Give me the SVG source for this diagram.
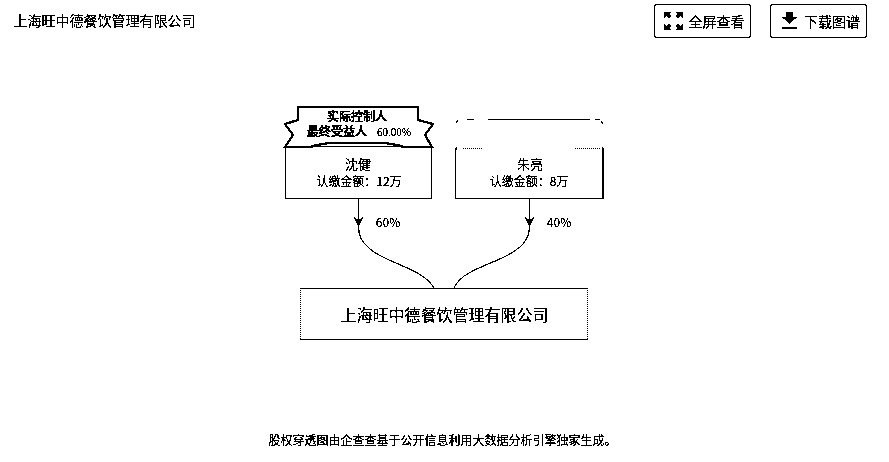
<svg xmlns="http://www.w3.org/2000/svg" width="889" height="462" viewBox="0 0 889 462">
<style>
text{font-family:"Noto Sans CJK SC","Liberation Sans",sans-serif;fill:#000;text-anchor:middle}
.box{fill:#fff;stroke:#000;stroke-width:1}
.btn{fill:#fff;stroke:#000;stroke-width:1}
.line{fill:none;stroke:#000;stroke-width:1}
.ic{fill:#000;stroke:none}
.s12{font-size:12px}.s13{font-size:13px}.s14{font-size:14px}.s16{font-size:16px}
</style>
<defs>
<marker id="arrow" viewBox="0 0 10 10" refX="10" refY="5" markerWidth="10" markerHeight="10" markerUnits="userSpaceOnUse" orient="auto"><path d="M0 0L3 5L0 10L10 5Z" fill="#000"/></marker>
<filter id="bw" x="0" y="0" width="100%" height="100%" color-interpolation-filters="sRGB"><feComponentTransfer><feFuncR type="discrete" tableValues="0 0 1"/><feFuncG type="discrete" tableValues="0 0 1"/><feFuncB type="discrete" tableValues="0 0 1"/></feComponentTransfer></filter>
</defs>
<g filter="url(#bw)">
<rect width="889" height="462" fill="#fff"/>
<g id="title"><text x="104.500" y="26" class="s14">上海旺中德餐饮管理有限公司</text></g>
<g id="btn-fullscreen">
<rect x="654.500" y="4.500" width="96" height="33" rx="2" class="btn"/>
<path class="ic" d="M664 12h7l-2 2 2 2-2 2-2-2-3 2zM683 12h-7l2 2-2 2 2 2 2-2 3 2zM664 30h7l-2-2 2-2-2-2-2 2-3-2zM683 30h-7l2-2-2-2 2-2 2 2 3-2z"/>
<text x="716.500" y="27" class="s14">全屏查看</text>
</g>
<g id="btn-download">
<rect x="770.500" y="4.500" width="96" height="33" rx="2" class="btn"/>
<path class="ic" d="M786 12h7v5h4l-7.500 7-7.500-7h4zM782 27h15v2h-15z"/>
<text x="832" y="27" class="s14">下载图谱</text>
</g>
<g id="connectors">
<path class="line" d="M358.500 199V227" marker-end="url(#arrow)"/>
<path class="line" d="M358.500 227C358.500 262 420 262 434 288"/>
<path class="line" d="M529.500 199V227" marker-end="url(#arrow)"/>
<path class="line" d="M529.500 227C529.500 262 464 262 454 288"/>
</g>
<g id="pct"><text x="388" y="227" class="s12">60%</text><text x="559" y="227" class="s12">40%</text></g>
<g id="node-shen">
<rect x="285.500" y="146.500" width="146" height="52" class="box"/>
<path fill="#fff" stroke="#000" stroke-width="2" d="M298 107H418V120L433 124L425 135L432 147H404Q392 143 380 143H334Q322 143 310 147H285L293 135L285 124L298 120Z"/>
<text x="357" y="121" class="s12" stroke="#000" stroke-width=".5">实际控制人</text>
<text x="337" y="136" class="s12" stroke="#000" stroke-width=".5">最终受益人</text>
<text x="394" y="136" font-size="10">60.00%</text>
<text x="358" y="169" class="s13">沈健</text>
<text x="359" y="186" class="s12">认缴金额：12万</text>
</g>
<g id="node-zhu">
<rect x="455.500" y="146.500" width="147.500" height="52" class="box"/>
<rect x="450" y="116" width="158" height="32" fill="#fff"/>
<path class="line" d="M488 119.500H590M467 119.500H474M595 119.500H600"/>
<path class="line" d="M463 148.500H483M575 148.500H600" stroke-dasharray="1 1"/>
<path class="line" d="M456 123L458 120M601 121L603 124M456 150L457 147M602.500 147V150"/>
<text x="530" y="169" class="s13">朱亮</text>
<text x="529" y="186" class="s12">认缴金额：8万</text>
</g>
<g id="node-company">
<rect x="300" y="288.500" width="288" height="51.500" fill="#fff"/>
<path class="line" d="M300 288.500H588M300 339.500H588"/>
<path class="line" stroke-dasharray="1 1" d="M300.500 288V340M587.500 288V340"/>
<text x="444.500" y="321" class="s16">上海旺中德餐饮管理有限公司</text>
</g>
<g id="footer"><text x="442.500" y="445" class="s12">股权穿透图由企查查基于公开信息利用大数据分析引擎独家生成。</text></g>
</g>
</svg>
